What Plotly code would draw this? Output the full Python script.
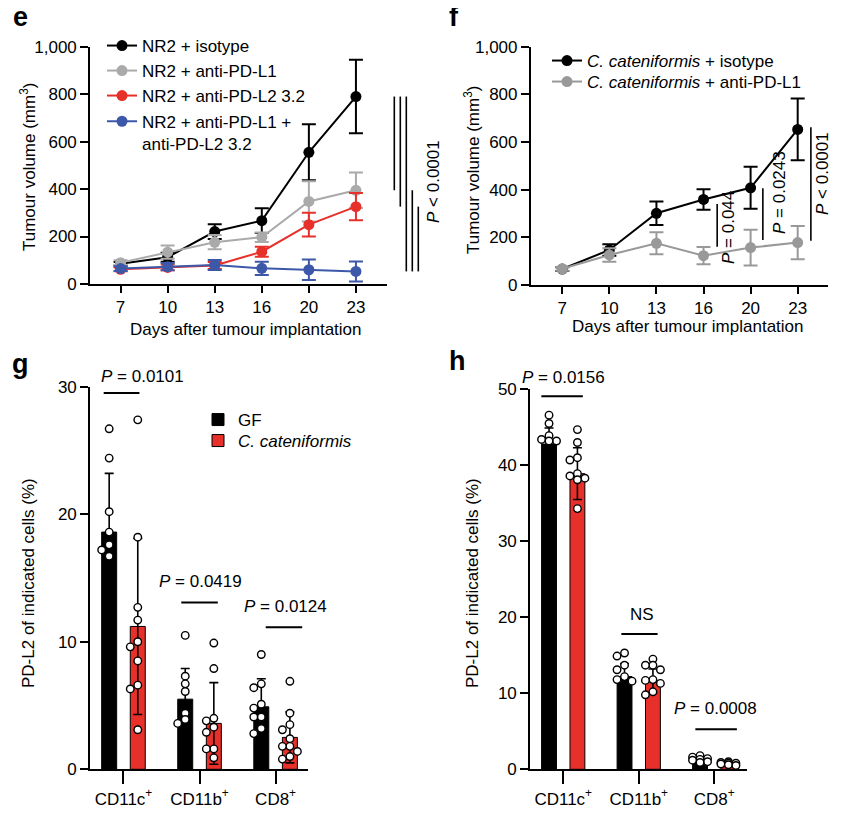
import plotly.graph_objects as go

# The page body adds an 8 px margin; work in reference-pixel coordinates and
# shift everything by that offset.
OX, OY = 8, 8
W, H = 850 - OX, 820 - OY
FONT = "Liberation Sans, Arial, sans-serif"
RED = "#e8302a"
GREY_E = "#aaaaaa"
GREY_F = "#999999"
BLUE = "#3d58a8"

# ---------------- data ----------------
DAYS = ["7", "10", "13", "16", "20", "23"]

E_ISO = [85, 113, 221, 267, 555, 790]
E_ISO_ERR = [8, 19, 31, 52, 118, 155]
E_PDL1 = [90, 134, 176, 197, 348, 395]
E_PDL1_ERR = [10, 28, 30, 20, 85, 75]
E_PDL2 = [62, 70, 78, 136, 250, 326]
E_PDL2_ERR = [8, 12, 15, 21, 50, 57]
E_COMBO = [65, 73, 80, 66, 60, 53]
E_COMBO_ERR = [10, 15, 21, 28, 43, 42]

F_ISO = [67, 147, 301, 359, 408, 653]
F_ISO_ERR = [8, 24, 49, 43, 88, 130]
F_PDL1 = [68, 126, 175, 123, 157, 178]
F_PDL1_ERR = [8, 28, 46, 36, 75, 70]

CELLS = ["CD11c<sup>+</sup>", "CD11b<sup>+</sup>", "CD8<sup>+</sup>"]

G_GF_MEAN = [18.6, 5.5, 4.9]
G_GF_SD = [4.6, 2.4, 2.2]
G_CC_MEAN = [11.2, 3.6, 2.5]
G_CC_SD = [6.9, 3.2, 2.0]
G_GF_PTS = [[26.7, 24.4, 20.2, 18.6, 17.6, 17.2, 16.7],
            [10.5, 7.3, 6.7, 6.1, 4.4, 3.9, 3.6],
            [9.0, 6.7, 6.4, 5.1, 4.8, 4.1, 4.1, 3.2, 2.8]]
G_CC_PTS = [[27.4, 18.2, 12.7, 11.7, 10.0, 9.6, 8.5, 6.6, 6.3, 3.1],
            [9.9, 7.9, 4.0, 3.8, 3.3, 2.9, 1.6, 1.6, 0.9],
            [6.9, 4.4, 3.5, 3.1, 2.4, 1.8, 1.8, 1.4, 1.0, 0.8]]

H_GF_MEAN = [42.8, 12.2, 1.3]
H_GF_SD = [2.1, 1.7, 0.4]
H_CC_MEAN = [38.9, 11.6, 0.7]
H_CC_SD = [3.4, 1.6, 0.2]
H_GF_PTS = [[46.6, 45.5, 43.9, 43.4, 43.2, 43.2],
            [15.3, 14.9, 13.7, 13.1, 12.2, 11.8, 11.6],
            [1.8, 1.6, 1.4, 1.3, 1.2, 1.0, 0.9]]
H_CC_PTS = [[44.7, 43.0, 41.0, 40.7, 38.9, 38.6, 38.3, 38.1, 34.3],
            [14.5, 13.7, 13.7, 13.1, 11.8, 11.7, 11.3, 10.2, 9.8],
            [1.0, 0.9, 0.8, 0.8, 0.7, 0.6, 0.5]]

# ---------------- layout helpers (reference pixels -> paper) ----------------
def px_x(x):
    return (x - OX) / W

def px_y(y):
    return 1 - (y - OY) / H

DOM = {
    "e": ([px_x(90), px_x(387)], [px_y(284), px_y(46.7)]),
    "f": ([px_x(530.7), px_x(828.3)], [px_y(285), px_y(46.7)]),
    "g": ([px_x(90), px_x(308.3)], [px_y(769.3), px_y(386.7)]),
    "h": ([px_x(530), px_x(746.7)], [px_y(769.3), px_y(389.3)]),
}
E_XR = [-0.65, 5.66]
F_XR = [-0.67, 5.65]
BAR_XR = [-0.44, 2.43]
G_YR = [0, 30]
H_YR = [0, 50]
OFF = 0.188
BW = 0.197
DOT = 7.5

# one legend per entry so that each row sits where the reference has it
# (x of legend box, y of row centre, in reference pixels)
LEGEND_ROWS = {
    "legend": (102, 45), "legend2": (102, 70), "legend3": (102, 95), "legend4": (102, 120.7),
    "legend5": (547, 60), "legend6": (547, 81),
    "legend7": (198, 419), "legend8": (198, 440),
}

fig = go.Figure()

def line_trace(y, err, color, name, xa, ya, legend):
    fig.add_trace(go.Scatter(
        x=DAYS, y=y, name=name, mode="lines+markers",
        line=dict(color=color, width=2),
        marker=dict(color=color, size=11),
        error_y=dict(type="data", array=err, color=color, thickness=2, width=7),
        xaxis=xa, yaxis=ya, legend=legend,
        cliponaxis=False,
    ))

# panel e
line_trace(E_ISO, E_ISO_ERR, "black", "NR2 + isotype", "x", "y", "legend")
line_trace(E_PDL1, E_PDL1_ERR, GREY_E, "NR2 + anti-PD-L1", "x", "y", "legend2")
line_trace(E_PDL2, E_PDL2_ERR, RED, "NR2 + anti-PD-L2 3.2", "x", "y", "legend3")
line_trace(E_COMBO, E_COMBO_ERR, BLUE, "NR2 + anti-PD-L1 +<br>anti-PD-L2 3.2", "x", "y", "legend4")
# panel f
line_trace(F_ISO, F_ISO_ERR, "black", "<i>C. cateniformis</i> + isotype", "x2", "y2", "legend5")
line_trace(F_PDL1, F_PDL1_ERR, GREY_F, "<i>C. cateniformis</i> + anti-PD-L1", "x2", "y2", "legend6")


def swarm(vals, ypu, xpu):
    placed, offs = [], []
    for v in vals:
        y = v * ypu
        best, bestd = 0, -1
        for k in [0, -1, 1]:
            x = k * DOT
            d = min([((x - a) ** 2 + (y - b) ** 2) ** 0.5 for a, b in placed] or [1e9])
            if d >= DOT * 0.8:
                best = x
                break
            if d > bestd:
                best, bestd = x, d
        placed.append((best, y))
        offs.append(best / xpu)
    return offs


def bar_panel(gf_m, gf_sd, cc_m, cc_sd, gf_pts, cc_pts, xa, ya, key, yr, legend_on):
    idx = list(range(len(CELLS)))
    fig.add_trace(go.Bar(
        x=[i - OFF for i in idx], y=gf_m, width=BW, name="GF",
        marker=dict(color="black", line=dict(color="black", width=1)),
        error_y=dict(type="data", array=gf_sd, color="black", thickness=1.6, width=4.5),
        xaxis=xa, yaxis=ya, showlegend=legend_on, legend="legend7"))
    fig.add_trace(go.Bar(
        x=[i + OFF for i in idx], y=cc_m, width=BW, name="<i>C. cateniformis</i>",
        marker=dict(color=RED, line=dict(color="black", width=1)),
        error_y=dict(type="data", array=cc_sd, color="black", thickness=1.6, width=4.5),
        xaxis=xa, yaxis=ya, showlegend=legend_on, legend="legend8"))
    xd, yd = DOM[key]
    xpu = (xd[1] - xd[0]) * W / (BAR_XR[1] - BAR_XR[0])
    ypu = (yd[1] - yd[0]) * H / (yr[1] - yr[0])
    for pts, sign in ((gf_pts, -1), (cc_pts, 1)):
        xs, ys = [], []
        for i, vals in enumerate(pts):
            offs = swarm(vals, ypu, xpu)
            xs += [i + sign * OFF + o for o in offs]
            ys += vals
        fig.add_trace(go.Scatter(
            x=xs, y=ys, mode="markers", showlegend=False,
            marker=dict(symbol="circle", size=DOT, color="white",
                        line=dict(color="black", width=1.4)),
            xaxis=xa, yaxis=ya, cliponaxis=False))


bar_panel(G_GF_MEAN, G_GF_SD, G_CC_MEAN, G_CC_SD, G_GF_PTS, G_CC_PTS, "x3", "y3", "g", G_YR, True)
bar_panel(H_GF_MEAN, H_GF_SD, H_CC_MEAN, H_CC_SD, H_GF_PTS, H_CC_PTS, "x4", "y4", "h", H_YR, False)

AX = dict(showline=True, linecolor="black", linewidth=1.6, ticks="outside",
          tickcolor="black", tickwidth=1.6, showgrid=False, zeroline=False,
          automargin=False,
          tickfont=dict(size=17, family=FONT, color="black"), fixedrange=True)

legends = {}
for lid, (lx, ly) in LEGEND_ROWS.items():
    legends[lid] = dict(x=px_x(lx), y=px_y(ly - 17), xanchor="left", yanchor="top",
                        bgcolor="rgba(0,0,0,0)", valign="top", itemwidth=30,
                        font=dict(size=17, family=FONT, color="black"))

fig.update_layout(
    width=W, height=H,
    margin=dict(l=0, r=0, t=0, b=0, pad=0, autoexpand=False),
    paper_bgcolor="white", plot_bgcolor="white",
    font=dict(family=FONT, size=17, color="black"),
    barmode="overlay",
    xaxis=dict(AX, domain=DOM["e"][0], type="category", range=E_XR, ticklen=7, anchor="y"),
    yaxis=dict(AX, domain=DOM["e"][1], range=[0, 1000], tickvals=[0, 200, 400, 600, 800, 1000],
               tickformat=",", ticklen=8, anchor="x"),
    xaxis2=dict(AX, domain=DOM["f"][0], type="category", range=F_XR, ticklen=7, anchor="y2"),
    yaxis2=dict(AX, domain=DOM["f"][1], range=[0, 1000], tickvals=[0, 200, 400, 600, 800, 1000],
                tickformat=",", ticklen=8, anchor="x2"),
    xaxis3=dict(AX, domain=DOM["g"][0], range=BAR_XR, tickvals=[0, 1, 2], ticktext=CELLS,
                ticklen=13, anchor="y3"),
    yaxis3=dict(AX, domain=DOM["g"][1], range=G_YR, tickvals=[0, 10, 20, 30], ticklen=8, anchor="x3"),
    xaxis4=dict(AX, domain=DOM["h"][0], range=BAR_XR, tickvals=[0, 1, 2], ticktext=CELLS,
                ticklen=13, anchor="y4"),
    yaxis4=dict(AX, domain=DOM["h"][1], range=H_YR, tickvals=[0, 10, 20, 30, 40, 50], ticklen=8, anchor="x4"),
    showlegend=True,
    **legends,
)

ann = []
def text(x, y, s, size=17, angle=0, **kw):
    ann.append(dict(x=px_x(x), y=px_y(y), xref="paper", yref="paper", text=s, showarrow=False,
                    textangle=angle, font=dict(size=size, family=FONT, color="black"),
                    xanchor="center", yanchor="middle", **kw))

# panel letters
text(20, 17, "<b>e</b>", 27)
text(454, 17, "<b>f</b>", 27)
text(20, 364, "<b>g</b>", 27)
text(457, 361, "<b>h</b>", 27)
# axis titles
text(28, 167, "Tumour volume (mm<sup>3</sup>)", angle=-90)
text(246, 329, "Days after tumour implantation")
text(472, 170, "Tumour volume (mm<sup>3</sup>)", angle=-90)
text(688, 327, "Days after tumour implantation")
text(28, 583, "PD-L2 of indicated cells (%)", angle=-90)
text(472, 583, "PD-L2 of indicated cells (%)", angle=-90)
# statistics text
text(433, 182, "<i>P</i> < 0.0001", angle=-90)
text(728, 228, "<i>P</i> = 0.044", angle=-90)
text(780, 193, "<i>P</i> = 0.0243", angle=-90)
text(822, 174, "<i>P</i> < 0.0001", angle=-90)
text(142.5, 376, "<i>P</i> = 0.0101")
text(200.8, 581, "<i>P</i> = 0.0419")
text(285, 606, "<i>P</i> = 0.0124")
text(563, 377.3, "<i>P</i> = 0.0156")
text(641.7, 614, "NS")
text(715.8, 708.3, "<i>P</i> = 0.0008")
fig.update_layout(annotations=ann)

shapes = []
# e: brackets between day-23 means, right of the plot
E_LAST = {"iso": E_ISO[-1], "pdl1": E_PDL1[-1], "pdl2": E_PDL2[-1], "combo": E_COMBO[-1]}
e_pairs = [("iso", "pdl1"), ("iso", "pdl2"), ("iso", "combo"), ("pdl1", "combo"), ("pdl2", "combo")]
for k, (a, b) in enumerate(e_pairs):
    xd = 1.0246 + k * 0.0202
    shapes.append(dict(type="line", xref="x domain", yref="y domain", x0=xd, x1=xd,
                       y0=E_LAST[a] / 1000, y1=E_LAST[b] / 1000, line=dict(color="black", width=1.6)))
# f brackets (x in day-index units)
for xi, y0, y1 in [(3.29, 340, 161), (4.26, 406, 189), (5.28, 662, 186)]:
    shapes.append(dict(type="line", xref="x2", yref="y2", x0=xi, x1=xi, y0=y0, y1=y1,
                       line=dict(color="black", width=1.6)))
# g / h horizontal bars
for xa, ya, x0, x1, y in [("x3", "y3", -0.26, 0.21, 29.5), ("x3", "y3", 0.76, 1.24, 13.07),
                          ("x3", "y3", 1.87, 2.35, 11.14), ("x4", "y4", -0.29, 0.26, 49.1),
                          ("x4", "y4", 0.77, 1.25, 17.8), ("x4", "y4", 1.75, 2.30, 5.26)]:
    shapes.append(dict(type="line", xref=xa, yref=ya, x0=x0, x1=x1, y0=y, y1=y,
                       line=dict(color="black", width=2)))
fig.update_layout(shapes=shapes)

fig.write_html("out.html")
